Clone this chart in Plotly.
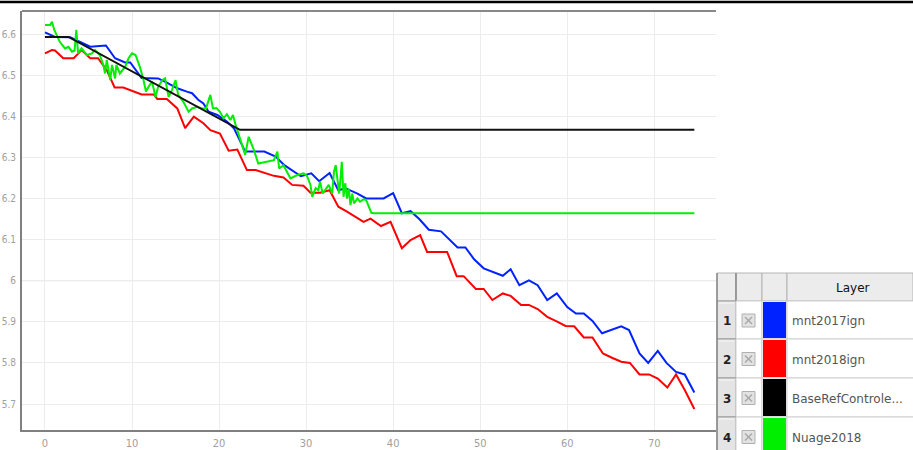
import plotly.graph_objects as go

# ---------------- data ----------------
blue_x = [0, 1.15, 2.9, 5.2, 7.0, 8.05, 9.2, 9.8, 11.1, 13.0, 14.0, 15.2, 16.3, 16.9, 17.6, 18.2, 18.8, 19.8, 20.9,
          21.7, 23.0, 25.2, 26.5, 27.5, 29.4, 30.6, 31.5, 32.7, 33.7, 34.5, 35.9, 36.9, 38.9, 40.0, 41.0, 42.0, 43.0,
          44.1, 45.5, 47.4, 48.3, 49.3, 50.4, 52.6, 53.5, 54.5, 55.6, 56.6, 57.7, 58.8, 60.0, 61.0, 61.9, 62.9, 64.0,
          66.2, 67.1, 68.3, 69.3, 70.4, 71.4, 72.5, 73.5, 74.6]
blue_y = [6.604, 6.593, 6.592, 6.569, 6.572, 6.541, 6.531, 6.531, 6.493, 6.492, 6.482, 6.468, 6.460, 6.456, 6.440,
          6.431, 6.411, 6.403, 6.387, 6.371, 6.314, 6.314, 6.302, 6.281, 6.254, 6.261, 6.242, 6.262, 6.220, 6.225,
          6.212, 6.200, 6.200, 6.213, 6.164, 6.169, 6.150, 6.124, 6.120, 6.081, 6.081, 6.052, 6.030, 6.012, 6.028,
          5.989, 6.001, 5.989, 5.953, 5.969, 5.936, 5.920, 5.920, 5.902, 5.872, 5.889, 5.880, 5.823, 5.800, 5.829,
          5.800, 5.778, 5.772, 5.728]

red_x = [0, 0.8, 1.15, 2.1, 3.3, 4.2, 5.2, 6.1, 7.1, 8.0, 9.0, 11.1, 12.5, 12.9, 14.0, 15.2, 16.1, 17.1, 18.2, 19.0,
         20.1, 21.1, 22.1, 23.2, 24.2, 25.3, 26.3, 27.4, 28.4, 29.7, 30.5, 31.6, 32.7, 33.7, 34.7, 36.6, 37.4, 38.6,
         39.7, 41.0, 42.0, 43.1, 43.9, 46.2, 47.3, 48.1, 49.5, 50.4, 51.4, 52.6, 53.5, 54.7, 55.6, 56.6, 57.7, 58.9,
         59.8, 60.8, 61.9, 62.9, 64.1, 65.2, 66.2, 67.2, 68.3, 69.4, 70.4, 71.5, 72.5, 73.5, 74.6]
red_y = [6.553, 6.561, 6.560, 6.541, 6.541, 6.561, 6.541, 6.541, 6.512, 6.470, 6.470, 6.453, 6.453, 6.442, 6.442,
         6.419, 6.371, 6.399, 6.383, 6.366, 6.358, 6.316, 6.319, 6.269, 6.269, 6.261, 6.255, 6.251, 6.233, 6.231,
         6.214, 6.214, 6.220, 6.180, 6.168, 6.143, 6.151, 6.133, 6.143, 6.079, 6.099, 6.111, 6.070, 6.070, 6.011,
         6.011, 5.980, 5.980, 5.953, 5.969, 5.963, 5.941, 5.941, 5.931, 5.912, 5.900, 5.890, 5.889, 5.862, 5.862,
         5.823, 5.812, 5.803, 5.800, 5.772, 5.772, 5.762, 5.740, 5.772, 5.734, 5.688]

black_x = [0, 2.7, 22.4, 74.6]
black_y = [6.593, 6.593, 6.367, 6.367]

green_x = [0, 0.6, 0.8, 1.07, 1.4, 1.7, 2.3, 2.7, 3.1, 3.4, 3.6, 3.8, 4.2, 4.8, 5.4, 5.75, 6.3, 6.7, 6.9, 7.1, 7.5,
           7.7, 8.05, 8.2, 8.6, 9.2, 9.6, 10.0, 10.4, 10.9, 11.3, 11.6, 12.0, 12.3, 12.7, 13.0, 13.5, 13.8, 14.2,
           14.6, 15.0, 15.3, 15.9, 16.5, 16.9, 17.5, 18.0, 18.5, 19.0, 19.3, 19.7, 20.1, 20.5, 20.9, 21.3, 21.6,
           21.9, 22.2, 22.6, 23.0, 23.4, 24.0, 24.5, 25.5, 26.3, 26.7, 26.9, 27.4, 28.2, 29.0, 29.7, 30.1, 30.5,
           30.7, 31.1, 31.4, 31.6, 31.9, 32.3, 32.6, 33.0, 33.2, 33.4, 33.6, 33.8, 34.0, 34.1, 34.3, 34.5, 34.7,
           34.9, 35.1, 35.3, 35.5, 35.9, 36.2, 36.6, 36.9, 37.5, 37.8, 74.6]
green_y = [6.622, 6.622, 6.630, 6.610, 6.595, 6.581, 6.565, 6.569, 6.557, 6.560, 6.610, 6.553, 6.565, 6.549, 6.553,
           6.561, 6.549, 6.525, 6.504, 6.537, 6.488, 6.525, 6.492, 6.525, 6.504, 6.520, 6.541, 6.553, 6.549, 6.520,
           6.490, 6.460, 6.475, 6.484, 6.447, 6.472, 6.488, 6.492, 6.447, 6.464, 6.488, 6.452, 6.435, 6.411, 6.419,
           6.423, 6.419, 6.419, 6.452, 6.419, 6.420, 6.411, 6.395, 6.405, 6.391, 6.403, 6.379, 6.358, 6.334, 6.306,
           6.350, 6.318, 6.285, 6.289, 6.293, 6.314, 6.273, 6.281, 6.249, 6.257, 6.261, 6.255, 6.233, 6.204, 6.225,
           6.220, 6.241, 6.212, 6.225, 6.233, 6.212, 6.265, 6.281, 6.245, 6.212, 6.261, 6.289, 6.204, 6.237, 6.200,
           6.224, 6.184, 6.212, 6.188, 6.200, 6.192, 6.198, 6.196, 6.165, 6.164, 6.164]

x_ticks = [0, 10, 20, 30, 40, 50, 60, 70]
y_ticks = [5.7, 5.8, 5.9, 6.0, 6.1, 6.2, 6.3, 6.4, 6.5, 6.6]
y_tick_text = ["5.7", "5.8", "5.9", "6", "6.1", "6.2", "6.3", "6.4", "6.5", "6.6"]

layer_names = ["mnt2017ign", "mnt2018ign", "BaseRefControle...", "Nuage2018"]
layer_colors = ["#0022ff", "#ff0000", "#000000", "#00ee00"]
header_text = "Layer"

# ---------------- figure ----------------
W, H = 913, 450
L, R, T, B = 22, 716, 11, 430


def px(x):
    return (x - L) / (R - L)


def py(y):
    return (B - y) / (B - T)


fig = go.Figure()
series = [(blue_x, blue_y, layer_colors[0], layer_names[0]),
          (red_x, red_y, layer_colors[1], layer_names[1]),
          (green_x, green_y, layer_colors[3], layer_names[3]),
          (black_x, black_y, "#111111", layer_names[2])]
for xs, ys, c, n in series:
    fig.add_trace(go.Scatter(x=xs, y=ys, mode="lines", name=n,
                             line=dict(color=c, width=2), hoverinfo="skip"))

tick_font = dict(family="Liberation Sans Narrow, DejaVu Sans Condensed, Roboto Condensed, Liberation Sans, sans-serif",
                 size=10, color="#a0a0a0")

fig.update_layout(
    width=W, height=H,
    margin=dict(l=L, r=W - R, t=T, b=H - B, pad=0),
    paper_bgcolor="white", plot_bgcolor="white",
    showlegend=False,
    xaxis=dict(range=[-2.64, 77.09], tickvals=x_ticks, ticktext=[str(v) for v in x_ticks],
               showgrid=True, gridcolor="#ececec", gridwidth=1, zeroline=False,
               showline=True, linecolor="#808080", linewidth=2, ticks="",
               tickfont=dict(tick_font, size=11), automargin=False, ticklabelstandoff=2),
    yaxis=dict(range=[5.6368, 6.656], tickvals=y_ticks, ticktext=y_tick_text,
               showgrid=True, gridcolor="#ececec", gridwidth=1, zeroline=False,
               showline=True, linecolor="#808080", linewidth=2, ticks="",
               tickfont=tick_font, automargin=False, ticklabelstandoff=2),
)

shapes = []
annotations = []
# top black rule across the page
shapes.append(dict(type="line", xref="paper", yref="paper", x0=px(0), x1=px(W), y0=py(2), y1=py(2),
                   line=dict(color="black", width=2.5)))
# top border of plot area
shapes.append(dict(type="line", xref="paper", yref="paper", x0=px(L), x1=px(R), y0=py(11), y1=py(11),
                   line=dict(color="#888888", width=2)))
# darker 6.0 grid line
shapes.append(dict(type="line", xref="paper", yref="y", x0=0, x1=1, y0=6.0, y1=6.0, layer="below",
                   line=dict(color="#d2d2d2", width=1)))

# ---------------- layer table ----------------
cols = [717, 736, 762, 787, 913]
rows = [273, 301, 339, 378, 417, 456]


def rect(x0, y0, x1, y1, fill, line_color=None, lw=1):
    shapes.append(dict(type="rect", xref="paper", yref="paper",
                       x0=px(x0), x1=px(x1), y0=py(y1), y1=py(y0),
                       fillcolor=fill, line=dict(color=line_color or fill, width=lw if line_color else 0)))


def line(x0, y0, x1, y1, color, width=1):
    shapes.append(dict(type="line", xref="paper", yref="paper",
                       x0=px(x0), x1=px(x1), y0=py(y0), y1=py(y1),
                       line=dict(color=color, width=width)))


table_font = "DejaVu Sans, Verdana, sans-serif"
# background
rect(cols[0], rows[0], cols[-1], 450, "white")
# header row cells
for i in range(4):
    rect(cols[i], rows[0], cols[i + 1], rows[1], "#ececec", "#b4b4b4", 1)
line(cols[1], rows[0], cols[1], rows[1], "#8a8a8a", 1.5)
annotations.append(dict(xref="paper", yref="paper", x=px(853), y=py(288), text=header_text, showarrow=False,
                        font=dict(family=table_font, size=12, color="#111111"),
                        xanchor="center", yanchor="middle"))

for r in range(4):
    y0, y1 = rows[r + 1], rows[r + 2]
    yc = (y0 + y1) / 2 + 1
    # row number button
    rect(cols[0], y0, cols[1], y1, "#e4e4e4", "#9a9a9a", 1)
    line(cols[0] + 2, y0 + 2, cols[1] - 2, y0 + 2, "#f8f8f8", 1)
    annotations.append(dict(xref="paper", yref="paper", x=px((cols[0] + cols[1]) / 2), y=py(yc),
                            text="<b>%d</b>" % (r + 1), showarrow=False,
                            font=dict(family=table_font, size=12, color="#222222"),
                            xanchor="center", yanchor="middle"))
    # checkbox cell
    rect(cols[1], y0, cols[2], y1, "white", "#cfcfcf", 1)
    cx = (cols[1] + cols[2]) / 2
    rect(cx - 7, yc - 7, cx + 6, yc + 6, "#e2e2e2", "#b0b0b0", 1)
    line(cx - 4, yc - 4, cx + 3, yc + 3, "#a8a8a8", 1.5)
    line(cx - 4, yc + 3, cx + 3, yc - 4, "#a8a8a8", 1.5)
    # colour cell
    rect(cols[2], y0, cols[3], y1, "white", "#cfcfcf", 1)
    rect(cols[2] + 1, y0 + 1, cols[3] - 1, y1 - 1, layer_colors[r])
    # name cell
    rect(cols[3], y0, cols[4] + 2, y1, "white", "#cfcfcf", 1)
    annotations.append(dict(xref="paper", yref="paper", x=px(790), y=py(yc), text=layer_names[r],
                            showarrow=False,
                            font=dict(family=table_font, size=12, color="#555555"),
                            xanchor="left", yanchor="middle"))
# table left border
line(cols[0], rows[0], cols[0], 450, "#8a8a8a", 1.5)

fig.update_layout(shapes=shapes, annotations=annotations)
fig.write_html("out.html", config={"displayModeBar": False},
               post_script="document.body.style.margin='0px';document.body.style.overflow='hidden';")
